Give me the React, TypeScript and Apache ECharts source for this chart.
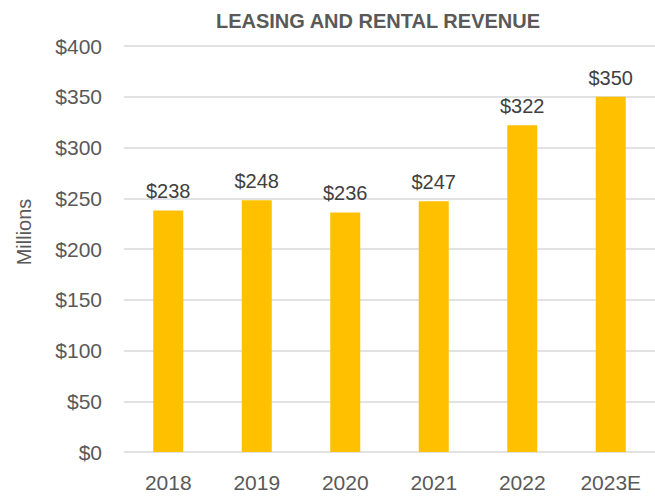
import React, { useEffect, useRef } from "react";
import * as echarts from "echarts";

const categories = ["2018", "2019", "2020", "2021", "2022", "2023E"];
const revenue = [238, 248, 236, 247, 322, 350];
const yTicks = [0, 50, 100, 150, 200, 250, 300, 350, 400];

export default function App() {
  const ref = useRef<HTMLDivElement>(null);
  useEffect(() => {
    if (!ref.current) return;
    const chart = echarts.init(ref.current, null, { renderer: "svg" });
    const font = "'Liberation Sans', Arial, sans-serif";
    chart.setOption({
      animation: false,
      backgroundColor: "#ffffff",
      grid: { left: 124, right: 0, top: 46, bottom: 47, containLabel: false },
      graphic: [
        {
          type: "text",
          x: 378,
          y: 21,
          style: {
            text: "LEASING AND RENTAL REVENUE",
            fill: "#595959",
            font: `bold 20px ${font}`,
            textAlign: "center",
            textVerticalAlign: "middle",
          },
        },
        {
          type: "text",
          x: 24,
          y: 232,
          rotation: Math.PI / 2,
          style: {
            text: "Millions",
            fill: "#595959",
            font: `20px ${font}`,
            textAlign: "center",
            textVerticalAlign: "middle",
          },
        },
      ],
      xAxis: {
        type: "category",
        data: categories,
        axisLine: { show: false },
        axisTick: { show: false },
        axisLabel: { color: "#595959", fontSize: 21, fontFamily: font, margin: 20 },
      },
      yAxis: {
        type: "value",
        min: yTicks[0],
        max: yTicks[yTicks.length - 1],
        interval: 50,
        axisLine: { show: false },
        axisTick: { show: false },
        splitLine: { lineStyle: { color: "#d9d9d9", width: 1.5 } },
        axisLabel: {
          color: "#595959",
          fontSize: 21,
          fontFamily: font,
          margin: 22,
          formatter: (v: number) => "$" + v,
        },
      },
      series: [
        {
          type: "bar",
          data: revenue,
          barWidth: 30,
          itemStyle: { color: "#FFC000" },
          label: {
            show: true,
            position: "top",
            distance: 9,
            color: "#404040",
            fontSize: 20,
            fontFamily: font,
            formatter: (p: any) => "$" + p.value,
          },
        },
      ],
    });
    return () => chart.dispose();
  }, []);
  return <div ref={ref} style={{ width: 655, height: 499, position: "absolute", left: 0, top: 0 }} />;
}
